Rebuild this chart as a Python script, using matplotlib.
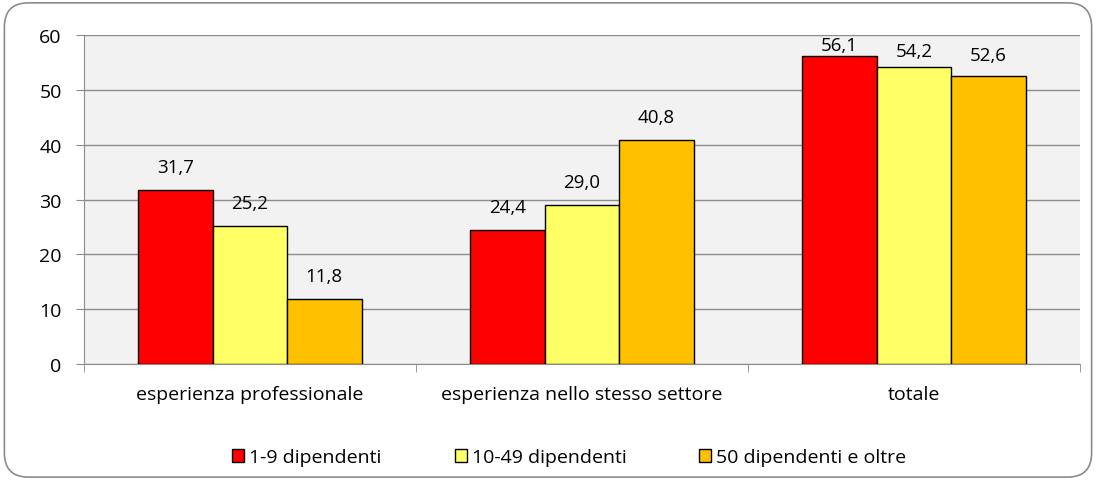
import numpy as np
import matplotlib.pyplot as plt
from matplotlib.patches import FancyBboxPatch

plt.rcParams['font.family'] = ['Open Sans', 'DejaVu Sans']

# dati
categorie = ['esperienza professionale', 'esperienza nello stesso settore', 'totale']
serie = ['1-9 dipendenti', '10-49 dipendenti', '50 dipendenti e oltre']
valori_1_9 = [31.7, 24.4, 56.1]
valori_10_49 = [25.2, 29.0, 54.2]
valori_50 = [11.8, 40.8, 52.6]
colori = ['#ff0000', '#ffff66', '#ffc000']

fig = plt.figure(figsize=(10.96, 4.81), dpi=100)
# cornice arrotondata
bordo = FancyBboxPatch((0.004, 0.006), 0.992, 0.986, boxstyle='round,pad=0,rounding_size=0.022',
                       transform=fig.transFigure, facecolor='none', edgecolor='#8c8c8c', lw=1.2,
                       mutation_aspect=1096 / 481, zorder=-1)
fig.patches.append(bordo)

ax = fig.add_axes([0.0766, 0.241, 0.9088, 0.684])
ax.set_facecolor('#f2f2f2')

x = np.arange(len(categorie))
w = 0.224
handles = []
for i, (vals, col, lab) in enumerate(zip([valori_1_9, valori_10_49, valori_50], colori, serie)):
    bars = ax.bar(x + (i - 1) * w, vals, w, color=col, edgecolor='black', lw=1, label=lab, zorder=3)
    handles.append(bars)
    for b, v in zip(bars, vals):
        # come in Excel: l'etichetta resta dentro l'area del grafico
        yl = min(v + 3.3, (v + 60) / 2 - 0.85)
        ax.text(b.get_x() + b.get_width() / 2, yl, f'{v:.1f}'.replace('.', ','),
                ha='center', va='baseline', fontsize=13.5)

ax.set_xlim(-0.5, 2.5)
ax.set_ylim(0, 60)
ax.set_yticks(range(0, 61, 10))
ax.yaxis.grid(True, color='#8c8c8c', lw=1, zorder=0)
ax.set_xticks([])
ax.set_xticks([-0.5, 0.5, 1.5, 2.5], minor=True)
ax.tick_params(axis='x', which='minor', length=6, color='#8c8c8c', direction='out')
ax.tick_params(axis='y', length=6, color='#8c8c8c', labelsize=14, pad=10)
for i, c in enumerate(categorie):
    ax.text(i, -6.4, c, ha='center', va='baseline', fontsize=14)

for s in ['top', 'right']:
    ax.spines[s].set_visible(False)
ax.spines['left'].set_color('#8c8c8c')
ax.spines['bottom'].set_color('#8c8c8c')

# legenda: tre voci posizionate come nell'originale
pos_leg = [232, 455, 699]
for h, lab, px in zip(handles, serie, pos_leg):
    fig.legend([h], [lab], loc='center left', bbox_to_anchor=(px / 1096, 0.047), frameon=False,
               fontsize=14, handlelength=0.62, handleheight=0.62, handletextpad=0.26,
               borderpad=0, borderaxespad=0)

fig.savefig('out.png', dpi=100)
